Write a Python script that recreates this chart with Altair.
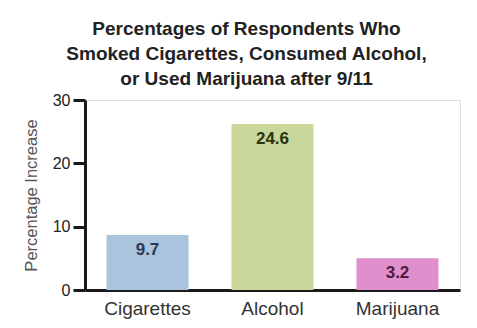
import altair as alt
import pandas as pd

categories = ["Cigarettes", "Alcohol", "Marijuana"]
bar_heights = [8.7, 26.2, 5.0]          # heights as drawn against the axis
value_labels = ["9.7", "24.6", "3.2"]   # printed values
bar_colors = ["#a9c4dc", "#c9d79b", "#e08fcc"]
label_colors = ["#2b3a52", "#2a3310", "#4b1a40"]
y_ticks = [0, 10, 20, 30]
title_lines = [
    "Percentages of Respondents Who",
    "Smoked Cigarettes, Consumed Alcohol,",
    "or Used Marijuana after 9/11",
]

df = pd.DataFrame({"category": categories, "height": bar_heights, "label": value_labels})

FONT = "Liberation Sans"

x = alt.X(
    "category:N", sort=categories, title=None,
    scale=alt.Scale(paddingInner=0.344, paddingOuter=0.172),
    axis=alt.Axis(labelAngle=0, ticks=False, domainWidth=3, domainColor="#1a1a1a",
                  labelFont=FONT, labelFontSize=19, labelColor="#333333", labelPadding=9),
)
y = alt.Y(
    "height:Q", title="Percentage Increase",
    scale=alt.Scale(domain=[0, 30], nice=False),
    axis=alt.Axis(values=y_ticks, grid=False, tickSize=12, tickWidth=3, tickColor="#1a1a1a",
                  domainWidth=3, domainColor="#1a1a1a",
                  labelFont=FONT, labelFontSize=16, labelColor="#222222", labelPadding=3,
                  titleFont=FONT, titleFontSize=16.5, titleFontWeight="normal",
                  titleColor="#555555", titlePadding=13),
)

bars = alt.Chart(df).mark_bar().encode(
    x=x, y=y,
    color=alt.Color("category:N", scale=alt.Scale(domain=categories, range=bar_colors), legend=None),
)
labels = alt.Chart(df).mark_text(
    dy=15, baseline="middle", font=FONT, fontSize=17, fontWeight="bold"
).encode(
    x=alt.X("category:N", sort=categories),
    y=alt.Y("height:Q"),
    text="label:N",
    color=alt.Color("category:N", scale=alt.Scale(domain=categories, range=label_colors), legend=None),
)

chart = (
    alt.layer(bars, labels)
    .resolve_scale(color="independent")
    .properties(
        width=375, height=190,
        padding={"left": 77, "top": 92, "right": 9, "bottom": 30},
        autosize=alt.AutoSizeParams(type="none"),
        title=alt.TitleParams(title_lines, font=FONT, fontSize=19, fontWeight="bold",
                              color="#222222", lineHeight=25, anchor="middle", dx=-26, offset=3),
    )
    .configure_view(stroke=None)
    .configure(background="white")
)

chart.save("out.html", embed_options={"renderer": "svg", "actions": False})
